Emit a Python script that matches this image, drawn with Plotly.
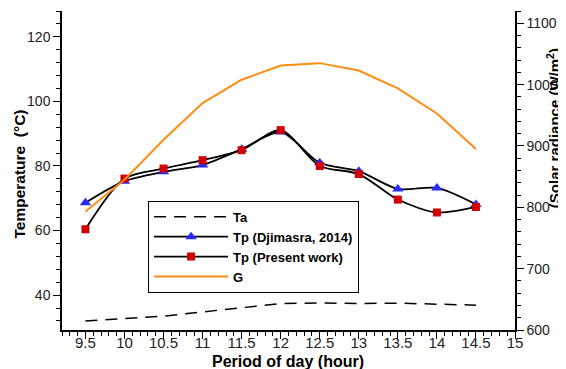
import plotly.graph_objects as go

hours = [9.5, 10, 10.5, 11, 11.5, 12, 12.5, 13, 13.5, 14, 14.5]
ta = [32.0, 32.8, 33.5, 34.8, 36.2, 37.4, 37.6, 37.4, 37.5, 37.2, 36.9]
tp_djimasra = [68.6, 75.3, 78.2, 80.3, 85.2, 90.5, 81.0, 78.4, 72.9, 73.2, 68.1]
tp_present = [60.4, 76.1, 79.2, 81.8, 84.9, 91.1, 80.0, 77.5, 69.6, 65.6, 67.3]
g_rad = [793, 845, 910, 970, 1008, 1031, 1035, 1023, 994, 953, 895]

FONT = "Liberation Sans, Arial, sans-serif"

fig = go.Figure()
fig.add_trace(go.Scatter(x=hours, y=ta, name="Ta", mode="lines",
                         line=dict(color="black", width=1.5, dash="12px,8px")))
fig.add_trace(go.Scatter(x=hours, y=tp_djimasra, name="Tp (Djimasra, 2014)", mode="lines+markers",
                         line=dict(color="black", width=1.8, shape="spline", smoothing=0.8),
                         marker=dict(symbol="triangle-up", size=10, color="rgb(40,40,255)")))
fig.add_trace(go.Scatter(x=hours, y=tp_present, name="Tp (Present work)", mode="lines+markers",
                         line=dict(color="black", width=1.8, shape="spline", smoothing=0.8),
                         marker=dict(symbol="square", size=8, color="rgb(210,0,0)")))
fig.add_trace(go.Scatter(x=hours, y=g_rad, name="G", mode="lines", yaxis="y2",
                         line=dict(color="rgb(255,140,20)", width=2)))

tickfont = dict(family=FONT, size=14, color="#222")

def titlefont(size):
    return dict(family=FONT, size=size, color="black", weight="bold")

# page body has an 8px margin, so the figure is sized to fit the 566x369 window
fig.update_layout(
    width=558, height=361,
    margin=dict(l=54, r=51, t=3, b=39, autoexpand=False),
    paper_bgcolor="white", plot_bgcolor="white",
    font=dict(family=FONT, size=14, color="black"),
    xaxis=dict(range=[9.2, 15], tick0=9.5, dtick=0.5, showgrid=False, zeroline=False,
               showline=True, linecolor="black", linewidth=1.5, automargin=False,
               ticks="outside", ticklen=7, tickwidth=1, tickcolor="black", ticklabelstandoff=-9,
               minor=dict(dtick=0.1, tick0=9.5, ticks="outside", ticklen=4, tickcolor="black", showgrid=False),
               tickfont=dict(family=FONT, size=15, color="#222")),
    yaxis=dict(range=[29.2, 128], tick0=0, dtick=20, showgrid=False, zeroline=False,
               showline=True, linecolor="black", linewidth=1.5, automargin=False,
               ticks="outside", ticklen=7, tickwidth=1, tickcolor="black",
               minor=dict(dtick=4, tick0=0, ticks="outside", ticklen=4, tickcolor="black", showgrid=False),
               tickfont=tickfont),
    yaxis2=dict(range=[600, 1120], tick0=600, dtick=100, overlaying="y", side="right", anchor="x",
                showgrid=False, zeroline=False, automargin=False,
                showline=True, linecolor="black", linewidth=1.5,
                ticks="outside", ticklen=7, tickwidth=1, tickcolor="black",
                minor=dict(dtick=20, tick0=600, ticks="outside", ticklen=4, tickcolor="black", showgrid=False),
                tickfont=tickfont),
    legend=dict(x=0.19, y=0.405, xanchor="left", yanchor="top",
                bgcolor="white", bordercolor="black", borderwidth=1,
                font=dict(family=FONT, size=13, color="black", weight="bold"),
                itemwidth=74, tracegroupgap=0),
    showlegend=True,
    annotations=[
        dict(text="Period of day (hour)", xref="paper", yref="paper", x=0.499, y=-0.099,
             xanchor="center", yanchor="middle", showarrow=False, font=titlefont(16)),
        dict(text="Temperature  (°C)", xref="paper", yref="paper", x=-0.093, y=0.49,
             xanchor="center", yanchor="middle", showarrow=False, textangle=-90, font=titlefont(15.5)),
        dict(text="(Solar radiance (W/m<sup>2</sup>)", xref="paper", yref="paper", x=1.084, y=0.633,
             xanchor="center", yanchor="middle", showarrow=False, textangle=-90, font=titlefont(15)),
    ],
)

fig.write_html("out.html")
